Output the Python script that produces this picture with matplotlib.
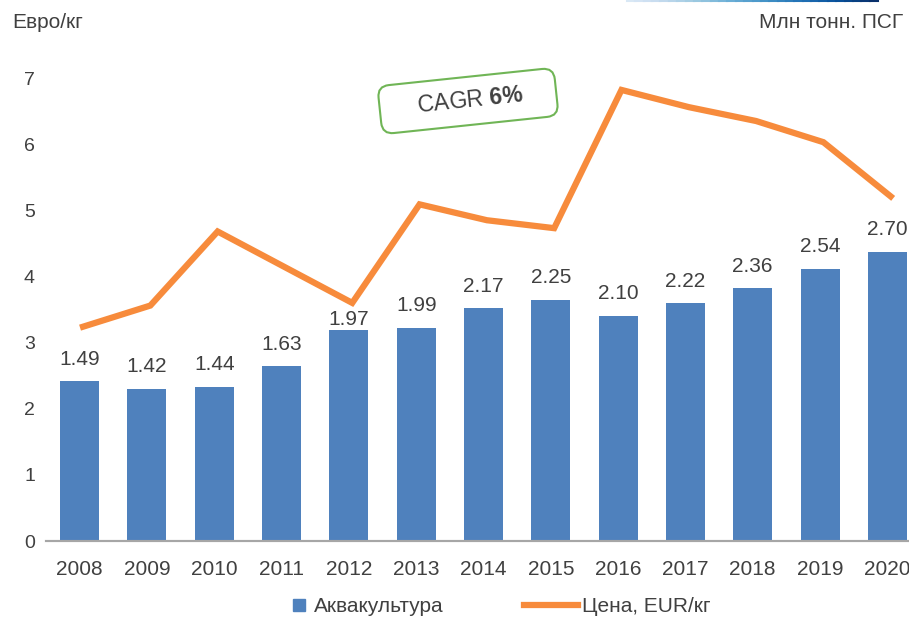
import numpy as np
import matplotlib
matplotlib.use('Agg')
from matplotlib import pyplot as plt
from matplotlib.lines import Line2D

plt.rcParams['font.family'] = ['Liberation Sans', 'DejaVu Sans']
plt.rcParams['mathtext.fontset'] = 'custom'
plt.rcParams['mathtext.bf'] = 'Liberation Sans:bold'
plt.rcParams['mathtext.rm'] = 'Liberation Sans'

years = ['2008', '2009', '2010', '2011', '2012', '2013', '2014',
         '2015', '2016', '2017', '2018', '2019', '2020']
aqua = [1.49, 1.42, 1.44, 1.63, 1.97, 1.99, 2.17, 2.25, 2.10, 2.22, 2.36, 2.54, 2.70]
price = [3.24, 3.56, 4.68, 4.14, 3.60, 5.09, 4.85, 4.73, 6.82, 6.56, 6.35, 6.03, 5.21]

txt = '#404040'
blue = '#4F81BD'
orange = '#F78B3C'

fig = plt.figure(figsize=(9.09, 6.19), dpi=100)
# axes stretch a bit past the right edge, like the cropped original
ax = fig.add_axes([46/909, 0.126, 875/909, 0.78])
ax2 = ax.twinx()

x = np.arange(len(years))
ax2.bar(x, aqua, width=0.58, color=blue, zorder=2)
# 2012 label sits lower so the price line does not cross it
lab_off = [9, 9, 9, 9, 1, 9, 9, 9, 9, 9, 9, 9, 9]
for xi, v, off in zip(x, aqua, lab_off):
    ax2.annotate(f'{v:.2f}', (xi, v), xytext=(0, off), textcoords='offset points',
                 ha='center', va='bottom', fontsize=15, color=txt)
ax.plot(x + 0.05, price, color=orange, lw=4.5, solid_joinstyle='miter', zorder=5)
ax.set_zorder(ax2.get_zorder() + 1)
ax.patch.set_visible(False)

ax.set_xlim(-0.5, len(years) - 0.5)
ax.set_ylim(0, 7.3)
ax2.set_ylim(0, 7.3 / 1.62)
ax.set_yticks(range(0, 8))
ax.set_xticks(x)
ax.set_xticklabels(years)
ax.tick_params(axis='x', length=0, pad=14, labelsize=15, labelcolor=txt)
ax.tick_params(axis='y', length=0, pad=8, labelsize=14, labelcolor=txt)
ax2.set_yticks([])
for a in (ax, ax2):
    for s in ('top', 'right', 'left'):
        a.spines[s].set_visible(False)
    a.spines['bottom'].set_color('#A6A6A6')
    a.spines['bottom'].set_linewidth(1.5)

fig.text(12/909, 1 - 22/619, 'Евро/кг', fontsize=15, color=txt, va='center', ha='left')
fig.text(903/909, 1 - 22/619, 'Млн тонн. ПСГ', fontsize=15, color=txt, va='center', ha='right')

# CAGR box
fig.text(468/909, 1 - 101/619, r'    CAGR $\mathbf{6\%}$    ', fontsize=16.5, color=txt,
         ha='center', va='center', rotation=6, rotation_mode='anchor',
         bbox=dict(boxstyle='round,pad=0.55,rounding_size=0.5', fc='white', ec='#70B556', lw=1.5))

# thin decorative line at top
cols = plt.cm.Blues(np.linspace(0.15, 1.0, 30))
xs = np.linspace(627/909, 878/909, 31)
for i in range(30):
    fig.add_artist(Line2D([xs[i], xs[i+1]], [0.998, 0.998], color=cols[i], lw=1.5))

leg1 = fig.legend([Line2D([], [], color=blue, marker='s', ls='none', markersize=8)],
                  ['Аквакультура'], loc='center', bbox_to_anchor=(368/909, 1 - 607/619),
                  frameon=False, fontsize=15, labelcolor=txt, handlelength=0.6, handletextpad=0.4)
leg2 = fig.legend([Line2D([], [], color=orange, lw=4.5)],
                  ['Цена, EUR/кг'], loc='center', bbox_to_anchor=(617/909, 1 - 607/619),
                  frameon=False, fontsize=15, labelcolor=txt, handlelength=2.6, handletextpad=0.2)

fig.savefig('out.png', dpi=100)
